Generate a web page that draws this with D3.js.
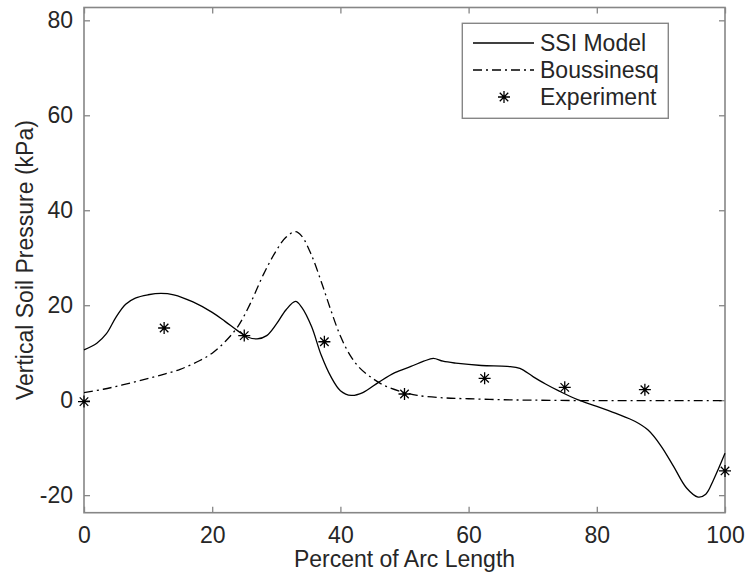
<!DOCTYPE html>
<html>
<head>
<meta charset="utf-8">
<script src="https://cdn.jsdelivr.net/npm/d3@7"></script>
<style>
  body { margin: 0; background: #fff; }
  text { font-family: "Liberation Sans", Arial, sans-serif; fill: #262626; }
</style>
</head>
<body>
<div id="container"></div>
<script>
// SSI model curve (percent of arc length, kPa)
const ssiX = [0, 2, 3.5, 5, 6.5, 8, 10, 12, 14, 17, 20, 22, 24, 25.5, 27, 28.5, 30, 31.5, 33, 34, 35.5, 37, 38.5, 40, 41.7, 43.5, 46, 48.5, 51, 53, 54.5, 56, 58, 62, 66, 68, 70, 72, 74, 77, 80, 83, 86, 88, 90, 92, 94, 95.8, 97, 98.2, 100];
const ssiY = [10.6, 12.0, 14.0, 17.5, 20.2, 21.5, 22.2, 22.5, 22.2, 20.7, 18.5, 16.6, 14.6, 13.3, 12.9, 13.6, 16.0, 19.0, 20.8, 19.5, 15.5, 9.5, 5.0, 2.0, 1.0, 1.6, 3.8, 5.8, 7.1, 8.2, 8.8, 8.2, 7.8, 7.3, 7.1, 6.7, 5.0, 3.4, 2.0, 0.1, -1.3, -2.8, -4.5, -6.3, -9.6, -14.0, -18.5, -20.4, -19.8, -16.8, -11.2];

// Boussinesq curve
const bousX = [0, 3, 6, 9, 12, 15, 18, 20, 22, 24, 26, 28, 30, 31.5, 33, 34, 35.5, 37, 38.5, 40, 41.5, 43, 45, 47, 49.5, 52, 56, 60, 65, 70, 80, 90, 100];
const bousY = [1.6, 2.3, 3.2, 4.2, 5.3, 6.5, 8.3, 9.9, 12.3, 15.5, 20.5, 26.5, 31.5, 34.3, 35.5, 34.5, 30.5, 25.0, 19.0, 13.5, 9.5, 6.8, 4.6, 3.0, 1.8, 1.0, 0.5, 0.3, 0.1, 0.0, -0.1, -0.1, -0.1];

// Experiment points
const expX = [0, 12.5, 25, 37.5, 50, 62.5, 75, 87.5, 100];
const expY = [-0.3, 15.2, 13.6, 12.3, 1.3, 4.6, 2.7, 2.2, -14.9];

const xTicks = [0, 20, 40, 60, 80, 100];
const yTicks = [-20, 0, 20, 40, 60, 80];
const legendNames = ["SSI Model", "Boussinesq", "Experiment"];

const width = 746;
const height = 582;
const box = { left: 84, right: 725, top: 7.5, bot: 512.7 };
const axisColor = "#868686";
const fontSize = 23;

const svg = d3.select("#container")
              .append("svg")
              .attr("width", width)
              .attr("height", height);

const xScale = d3.scaleLinear().domain([0, 100]).range([box.left, box.right]);
const yScale = d3.scaleLinear().domain([-23.7, 82.7]).range([box.bot, box.top]);

// axes (ticks point inward, box on)
function styleAxis(g) {
  g.select(".domain").remove();
  g.selectAll(".tick line").attr("stroke", axisColor).attr("stroke-width", 1.3);
  g.selectAll(".tick text").attr("fill", "#262626").style("font-size", fontSize + "px");
}
const plainFormat = (d) => String(d);

svg.append("g")
   .attr("transform", "translate(0," + box.bot + ")")
   .call(d3.axisBottom(xScale).tickValues(xTicks).tickSize(-6).tickPadding(14).tickFormat(plainFormat))
   .call(styleAxis);
svg.append("g")
   .attr("transform", "translate(0," + box.top + ")")
   .call(d3.axisTop(xScale).tickValues(xTicks).tickSize(-6).tickFormat(""))
   .call(styleAxis);
svg.append("g")
   .attr("transform", "translate(" + box.left + ",0)")
   .call(d3.axisLeft(yScale).tickValues(yTicks).tickSize(-6).tickPadding(11).tickFormat(plainFormat))
   .call(styleAxis);
svg.append("g")
   .attr("transform", "translate(" + box.right + ",0)")
   .call(d3.axisRight(yScale).tickValues(yTicks).tickSize(-6).tickFormat(""))
   .call(styleAxis);

svg.append("rect")
   .attr("x", box.left)
   .attr("y", box.top)
   .attr("width", box.right - box.left)
   .attr("height", box.bot - box.top)
   .attr("fill", "none")
   .attr("stroke", axisColor)
   .attr("stroke-width", 1.6);

// curves
const line = d3.line()
               .x((d) => xScale(d[0]))
               .y((d) => yScale(d[1]))
               .curve(d3.curveCatmullRom.alpha(0.5));

const ssiData = ssiX.map((x, i) => [x, ssiY[i]]);
const bousData = bousX.map((x, i) => [x, bousY[i]]);
const expData = expX.map((x, i) => [x, expY[i]]);

svg.append("path")
   .datum(bousData)
   .attr("d", line)
   .attr("fill", "none")
   .attr("stroke", "#000")
   .attr("stroke-width", 1.3)
   .attr("stroke-dasharray", "9,4,2,4");

svg.append("path")
   .datum(ssiData)
   .attr("d", line)
   .attr("fill", "none")
   .attr("stroke", "#000")
   .attr("stroke-width", 1.3);

// asterisk marker: plus + cross
const r = 6;
const rd = r * Math.SQRT1_2;
const asterisk = "M" + (-r) + ",0H" + r + "M0," + (-r) + "V" + r +
                 "M" + (-rd) + "," + (-rd) + "L" + rd + "," + rd +
                 "M" + (-rd) + "," + rd + "L" + rd + "," + (-rd);

svg.selectAll(".exp")
   .data(expData)
   .enter()
   .append("path")
   .attr("class", "exp")
   .attr("d", asterisk)
   .attr("transform", (d) => "translate(" + xScale(d[0]) + "," + yScale(d[1]) + ")")
   .attr("fill", "none")
   .attr("stroke", "#000")
   .attr("stroke-width", 1.3);

// axis labels
svg.append("text")
   .text("Percent of Arc Length")
   .attr("x", (box.left + box.right) / 2)
   .attr("y", 566.5)
   .attr("text-anchor", "middle")
   .style("font-size", fontSize + "px");

svg.append("text")
   .text("Vertical Soil Pressure (kPa)")
   .attr("text-anchor", "middle")
   .attr("transform", "translate(33," + (box.top + box.bot) / 2 + ")rotate(-90)")
   .style("font-size", fontSize + "px");

// legend
const legend = svg.append("g");
legend.append("rect")
      .attr("x", 462.3)
      .attr("y", 23.3)
      .attr("width", 206)
      .attr("height", 95)
      .attr("fill", "#fff")
      .attr("stroke", axisColor)
      .attr("stroke-width", 1.4);

const rowY = [43, 70, 97];
const dashes = [null, "9,4,2,4", null];
legendNames.forEach((name, i) => {
  if (i < 2) {
    legend.append("line")
          .attr("x1", 473).attr("x2", 534)
          .attr("y1", rowY[i]).attr("y2", rowY[i])
          .attr("stroke", "#000")
          .attr("stroke-width", 1.3)
          .attr("stroke-dasharray", dashes[i]);
  } else {
    legend.append("path")
          .attr("d", asterisk)
          .attr("transform", "translate(504," + rowY[i] + ")")
          .attr("fill", "none")
          .attr("stroke", "#000")
          .attr("stroke-width", 1.3);
  }
  legend.append("text")
        .text(name)
        .attr("x", 540)
        .attr("y", rowY[i])
        .attr("dy", "0.36em")
        .style("font-size", fontSize + "px");
});
</script>
</body>
</html>
